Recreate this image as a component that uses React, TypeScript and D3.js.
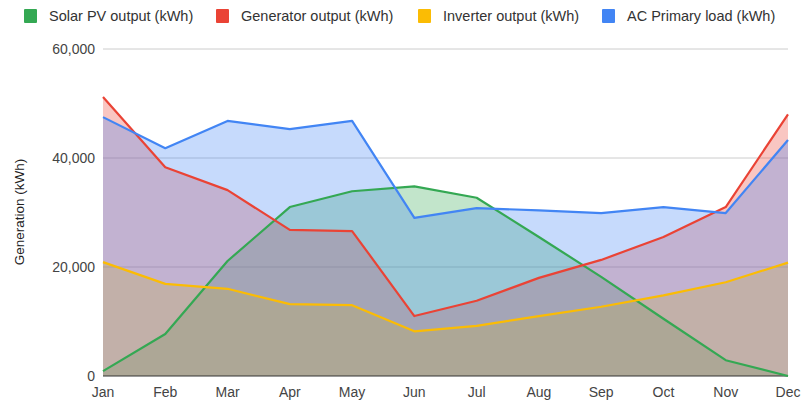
import React from "react";
import * as d3 from "d3";

const months = ["Jan", "Feb", "Mar", "Apr", "May", "Jun", "Jul", "Aug", "Sep", "Oct", "Nov", "Dec"];
const solarPV = [900, 7700, 21100, 31000, 33900, 34800, 32700, 25500, 18200, 10500, 2900, 0];
const generator = [51200, 38300, 34100, 26800, 26600, 11000, 13800, 18000, 21300, 25500, 31000, 48000];
const inverter = [20900, 16900, 16000, 13200, 13000, 8200, 9200, 11000, 12700, 14800, 17200, 20800];
const acLoad = [47500, 41800, 46800, 45300, 46800, 29000, 30800, 30400, 29900, 31000, 29900, 43300];
const yTicks = [0, 20000, 40000, 60000];

const series = [
  { name: "Solar PV output (kWh)", values: solarPV, color: "#34a853" },
  { name: "Generator output (kWh)", values: generator, color: "#ea4335" },
  { name: "Inverter output (kWh)", values: inverter, color: "#fbbc04" },
  { name: "AC Primary load (kWh)", values: acLoad, color: "#4285f4" },
];

const legendX = [24, 216, 418, 602];

export default function App() {
  const W = 803, H = 400;
  const x = d3.scalePoint<string>().domain(months).range([103, 788]);
  const y = d3.scaleLinear().domain([0, 60000]).range([376, 49]);
  const area = d3.area<number>().x((_, i) => x(months[i])!).y0(y(0)).y1((d) => y(d));
  const line = d3.line<number>().x((_, i) => x(months[i])!).y((d) => y(d));
  const fmt = d3.format(",");
  const font = "'Liberation Sans', Arial, sans-serif";
  return (
    <svg width={W} height={H} style={{ position: "absolute", left: 0, top: 0, fontFamily: font }}>
      <rect width={W} height={H} fill="#fff" />
      {yTicks.map((t) => (
        <g key={t}>
          {t !== 0 && <line x1={103} x2={788} y1={y(t)} y2={y(t)} stroke="#cccccc" strokeWidth={1} />}
          <text x={95} y={y(t)} dy="0.35em" textAnchor="end" fontSize={14} fill="#444">{fmt(t)}</text>
        </g>
      ))}
      {series.map((s) => (
        <path key={s.name + "a"} d={area(s.values)!} fill={s.color} fillOpacity={0.3} />
      ))}
      <line x1={103} x2={788} y1={y(0)} y2={y(0)} stroke="#333" strokeWidth={1} />
      {series.map((s) => (
        <path key={s.name + "l"} d={line(s.values)!} fill="none" stroke={s.color} strokeWidth={2.2} strokeLinejoin="round" />
      ))}
      {months.map((m) => (
        <text key={m} x={x(m)} y={397} textAnchor="middle" fontSize={14} fill="#444">{m}</text>
      ))}
      <text transform={`translate(24,212) rotate(-90)`} textAnchor="middle" fontSize={13.5} fill="#222">Generation (kWh)</text>
      {series.map((s, i) => (
        <g key={s.name + "g"}>
          <rect x={legendX[i]} y={9} width={13} height={14} rx={1} fill={s.color} />
          <text x={legendX[i] + 25} y={16} dy="0.35em" fontSize={14.5} fill="#333">{s.name}</text>
        </g>
      ))}
    </svg>
  );
}
